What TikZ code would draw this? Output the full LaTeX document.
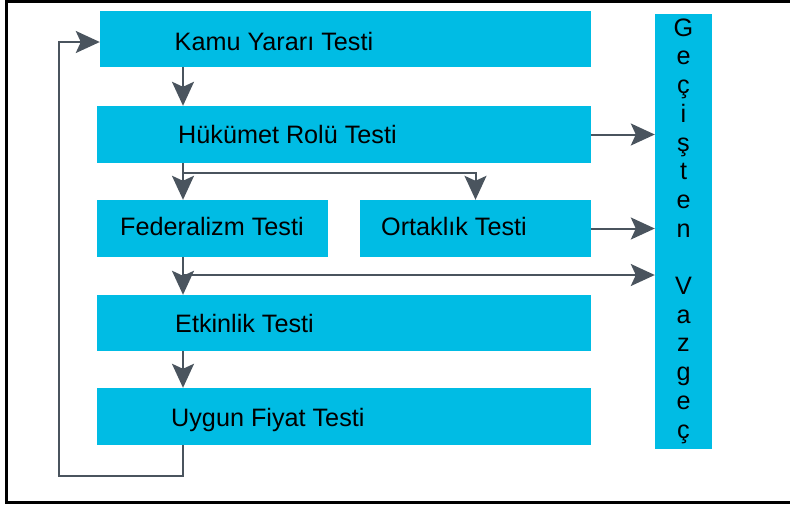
\documentclass[tikz,border=0pt]{standalone}
\usepackage{fontspec}
\setmainfont{Liberation Sans}
\usetikzlibrary{arrows.meta}
\definecolor{kutumavi}{RGB}{0,188,228}
\definecolor{okgri}{RGB}{74,84,94}
\tikzset{
  kutu/.style={fill=kutumavi, draw=none, inner sep=0pt},
  yazi/.style={anchor=base west, inner sep=0pt, font=\fontsize{25.2}{28.7}\selectfont},
  ok/.style={draw=okgri, line width=2pt, -{Stealth[length=24pt, width=22pt, inset=5pt]}}
}
\newcommand{\testkutu}[8]{
\node[kutu, minimum width=#4-#2, minimum height=#5-#3] (#1) at ({(#2+#4)/2},{(#3+#5)/2}) {};
\node[yazi] (#1yazi) at (#6,#7) {#8};}

\begin{document}
\begin{tikzpicture}[x=1pt,y=-1pt]
\useasboundingbox (0,0) rectangle (790,504);
\draw[line width=3pt] (790,1.5)--(6,1.5)--(6,502.5)--(790,502.5);

\testkutu{kamu}{100}{11}{591}{67}{174.5}{50}{Kamu Yararı Testi}
\testkutu{hukumet}{97}{106}{591}{163}{178}{143}{Hükümet Rolü Testi}
\testkutu{federal}{97}{200}{328}{257}{120}{235}{Federalizm Testi}
\testkutu{ortak}{360}{200}{591}{257}{381}{235}{Ortaklık Testi}
\testkutu{etkin}{97}{295}{591}{351}{175}{332}{Etkinlik Testi}
\testkutu{uygun}{97}{388}{591}{445}{171}{426}{Uygun Fiyat Testi}

\node[kutu, minimum width=57, minimum height=435, align=center,
  font=\fontsize{25.2}{28.7}\selectfont] (gecis) at (683.5,231)
  {G\\e\\ç\\i\\ş\\t\\e\\n\\[28.7pt]V\\a\\z\\g\\e\\ç};

\coordinate (hat) at (183,0);
\coordinate (dal1) at (183,173);
\coordinate (dal2) at (183,275);
\coordinate (donus) at (59,476);

\draw[ok] (hat |- kamu.south)--(hat |- hukumet.north);
\draw[ok] (hat |- hukumet.south)--(hat |- federal.north);
\draw[ok] (dal1) -| (ortak.north);
\draw[ok] (hat |- federal.south)--(hat |- etkin.north);
\draw[ok] (dal2)--(dal2 -| gecis.west);
\draw[ok] (hat |- etkin.south)--(hat |- uygun.north);
\draw[ok] (hukumet.east)--(hukumet.east -| gecis.west);
\draw[ok] (ortak.east)--(ortak.east -| gecis.west);
\draw[ok] (hat |- uygun.south) |- (donus) |- ([yshift=-3pt]kamu.west);
\end{tikzpicture}
\end{document}
